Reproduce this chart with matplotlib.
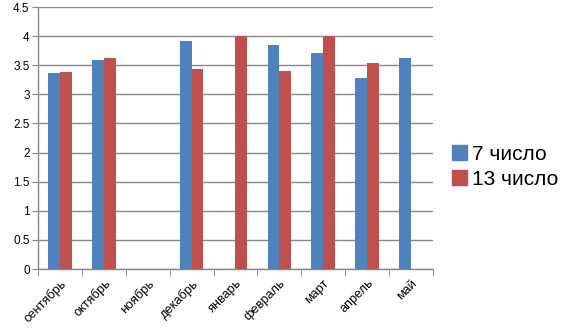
import matplotlib
matplotlib.use("Agg")
import matplotlib.pyplot as plt
import numpy as np
from matplotlib.patches import Patch

months = ["сентябрь", "октябрь", "ноябрь", "декабрь", "январь", "февраль", "март", "апрель", "май"]
s7 = [3.37, 3.59, np.nan, 3.92, np.nan, 3.85, 3.71, 3.28, 3.63]
s13 = [3.38, 3.63, np.nan, 3.44, 4.0, 3.40, 4.0, 3.54, np.nan]
yticks = [0, 0.5, 1, 1.5, 2, 2.5, 3, 3.5, 4, 4.5]
ylabels = ["0", "0.5", "1", "1.5", "2", "2.5", "3", "3.5", "4", "4.5"]

blue = "#4F81BD"
red = "#C0504D"
grid = "#888888"

plt.rcParams['font.family'] = ['Liberation Sans', 'DejaVu Sans']
fig = plt.figure(figsize=(5.76, 3.36), dpi=100)
ax = fig.add_axes([38/576, 1-269/336, (433-38)/576, (269-7)/336])

x = np.arange(len(months))
w = 0.27
ax.bar(x - w/2, s7, w, color=blue, zorder=3)
ax.bar(x + w/2, s13, w, color=red, zorder=3)

ax.set_xlim(-0.5, len(months) - 0.5)
ax.set_ylim(0, 4.5)
ax.set_yticks(yticks)
ax.set_yticklabels(ylabels, fontsize=8.5)
ax.yaxis.grid(True, color=grid, linewidth=1, zorder=0)
ax.set_axisbelow(True)
for s in ["top", "right"]:
    ax.spines[s].set_visible(False)
for s in ["left", "bottom"]:
    ax.spines[s].set_color(grid)
    ax.spines[s].set_linewidth(1)
ax.tick_params(axis='y', length=4, color=grid, pad=2)

ax.set_xticks(x)
ax.set_xticklabels(months, rotation=45, ha='right', va='top', rotation_mode='anchor', fontsize=9.2)
ax.tick_params(axis='x', which='major', length=0, pad=6)
ax.set_xticks(np.arange(-0.5, len(months)), minor=True)
ax.tick_params(axis='x', which='minor', length=5, color=grid)

handles = [Patch(color=blue, label="7 число"), Patch(color=red, label="13 число")]
fig.legend(handles=handles, loc='center left', bbox_to_anchor=(452/576, 1-167/336),
           frameon=False, fontsize=15, handlelength=0.72, handleheight=0.72,
           handletextpad=0.25, labelspacing=0.3, borderpad=0, borderaxespad=0)

fig.savefig("out.png", dpi=100)
